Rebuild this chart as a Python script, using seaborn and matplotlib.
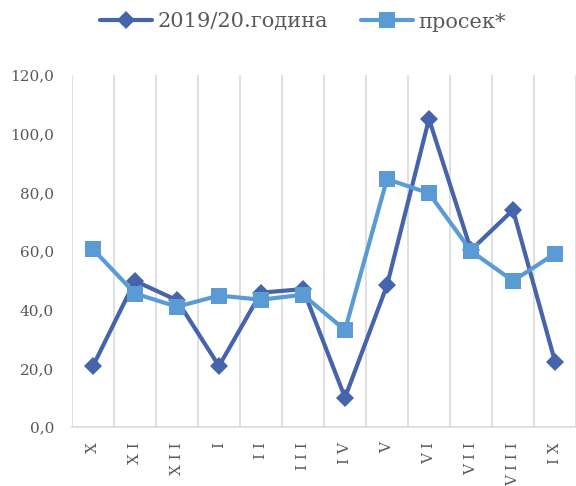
import matplotlib
matplotlib.use("Agg")
import matplotlib.pyplot as plt
import seaborn as sns
import pandas as pd
from matplotlib.ticker import FixedLocator, FuncFormatter

months = ["X", "XI", "XII", "I", "II", "III", "IV", "V", "VI", "VII", "VIII", "IX"]
month_labels = [" ".join(m) for m in months]
series_2019 = [20.8, 49.8, 43.2, 20.8, 45.8, 47.0, 10.0, 48.3, 105.0, 60.3, 74.0, 22.3]
series_avg = [60.6, 45.5, 41.0, 44.8, 43.4, 45.1, 33.0, 84.5, 79.7, 60.0, 49.8, 59.1]
name_2019 = "2019/20.година"
name_avg = "просек*"

df = pd.DataFrame({
    "pos": list(range(len(months))) * 2,
    "value": series_2019 + series_avg,
    "series": [name_2019] * len(months) + [name_avg] * len(months),
})

sns.set_theme(style="white")
plt.rcParams["font.family"] = ["DejaVu Serif", "DejaVu Sans"]

dark = "#4564AB"
light = "#5B9BD5"
grid_c = "#D9D9D9"
text_c = "#595959"
ms_d = 9
ms_s = 12

fig = plt.figure(figsize=(5.76, 4.86), dpi=100)
ax = fig.add_axes([72 / 576, 1 - 427 / 486, 1 - 72 / 576, (427 - 75) / 486])

sns.lineplot(data=df, x="pos", y="value", hue="series", style="series",
             palette={name_2019: dark, name_avg: light},
             markers={name_2019: "D", name_avg: "s"},
             dashes=False, linewidth=3.0, ax=ax, legend=True, sort=False)
for line in ax.get_lines():
    line.set_markersize(ms_d if line.get_marker() == "D" else ms_s)
    line.set_markeredgewidth(0)

ax.set_xlim(-0.5, len(months) - 0.5)
ax.set_ylim(0, 120)
ax.set_yticks(range(0, 121, 20))
ax.yaxis.set_major_formatter(FuncFormatter(lambda v, p: f"{v:.1f}".replace(".", ",")))
ax.set_xticks(range(len(months)))
ax.set_xticklabels(month_labels, rotation=90, va="top", ha="center")
ax.xaxis.set_minor_locator(FixedLocator([i - 0.5 for i in range(len(months) + 1)]))
ax.grid(False)
ax.grid(True, which="minor", axis="x", color=grid_c, linewidth=1.2)
ax.tick_params(axis="both", which="both", length=0)
ax.tick_params(axis="y", labelsize=11, labelcolor=text_c, pad=13)
ax.tick_params(axis="x", labelsize=11, labelcolor=text_c, pad=11)
for s in ["left", "right", "top"]:
    ax.spines[s].set_visible(False)
ax.spines["bottom"].set_color(grid_c)
ax.spines["bottom"].set_linewidth(1.2)
ax.set_xlabel("")
ax.set_ylabel("")

handles, labels = ax.get_legend_handles_labels()
ax.get_legend().remove()
for h in handles:
    h.set_markeredgewidth(0)
    h.set_linewidth(3.0)
    h.set_markersize(ms_d if h.get_marker() == "D" else ms_s)
leg = fig.legend(handles, labels, loc="center", bbox_to_anchor=(303 / 576, 1 - 22 / 486),
                 ncol=2, frameon=False, fontsize=15, handlelength=2.5,
                 handletextpad=0.25, columnspacing=1.6)
for t in leg.get_texts():
    t.set_color(text_c)

fig.savefig("out.png", dpi=100)
